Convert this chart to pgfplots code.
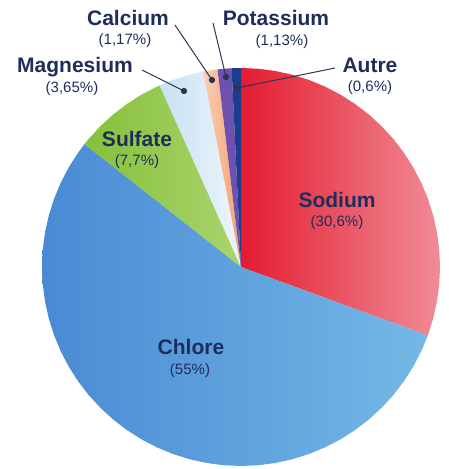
\documentclass[border=0pt]{standalone}
\usepackage{pgfplots}
\pgfplotsset{compat=1.18}
\usepackage{fontspec}
\setmainfont{Liberation Sans}
\definecolor{navy}{HTML}{1F2D5C}
\definecolor{leader}{HTML}{2A3550}
\begin{document}
\begin{tikzpicture}
\begin{axis}[scale only axis, width=449pt, height=469pt,
  xmin=-241, xmax=208, ymin=-202, ymax=267, hide axis, clip=false]
% invisible frame so that the picture keeps the reference's extent
\addplot[draw=none, mark=none] coordinates {(-241,-202) (208,267)};
% Sodium 30.6 %
\addplot[draw=none, data cs=polar, left color={rgb,255:red,228;green,28;blue,48}, right color={rgb,255:red,240;green,140;blue,150}] coordinates {
(0,0) (90,199) (85,199) (80,199) (75,199) (70,199) (65,199) (60,199) (55,199) (50,199) (45,199) (40,199) (35,199) (30,199) (25,199) (20,199) (15,199) (10,199) (5,199) (0,199) (-5,199) (-10,199) (-15,199) (-20.16,199)};
% Chlore 55 %
\addplot[draw=none, data cs=polar, left color={rgb,255:red,74;green,138;blue,212}, right color={rgb,255:red,116;green,184;blue,230}] coordinates {
(0,0) (-20.16,199) (-25,199) (-30,199) (-35,199) (-40,199) (-45,199) (-50,199) (-55,199) (-60,199) (-65,199) (-70,199) (-75,199) (-80,199) (-85,199) (-90,199) (-95,199) (-100,199) (-105,199) (-110,199) (-115,199) (-120,199) (-125,199) (-130,199) (-135,199) (-140,199) (-145,199) (-150,199) (-155,199) (-160,199) (-165,199) (-170,199) (-175,199) (-180,199) (-185,199) (-190,199) (-195,199) (-200,199) (-205,199) (-210,199) (-215,199) (-218.16,199)};
% Sulfate 7.7 %
\addplot[draw=none, data cs=polar, left color={rgb,255:red,134;green,192;blue,58}, right color={rgb,255:red,170;green,212;blue,110}] coordinates {
(0,0) (141.84,199) (140,199) (135,199) (130,199) (125,199) (120,199) (115,199) (114.12,199)};
% Magnesium 3.65 %
\addplot[draw=none, data cs=polar, left color={rgb,255:red,200;green,225;blue,243}, right color={rgb,255:red,238;green,245;blue,251}] coordinates {
(0,0) (114.12,199) (110,199) (105,199) (100.98,199)};
% Calcium 1.17 %
\addplot[draw=none, data cs=polar, left color={rgb,255:red,249;green,206;blue,180}, right color={rgb,255:red,243;green,160;blue,112}] coordinates {
(0,0) (100.98,199) (99,199) (96.77,199)};
% Potassium 1.13 %
\addplot[draw=none, data cs=polar, fill={rgb,255:red,110;green,80;blue,175}] coordinates {
(0,0) (96.77,199) (94.7,199) (92.70,199)};
% Autre 0.6 %
\addplot[draw=none, data cs=polar, fill={rgb,255:red,30;green,60;blue,140}] coordinates {
(0,0) (92.70,199) (91.3,199) (90,199)};
% leader lines
\addplot[leader, line width=1pt, mark=*, mark indices={2}, mark size=2.6pt] coordinates {(-99,197) (-57,176)};
\addplot[leader, line width=1pt, mark=*, mark indices={2}, mark size=2.6pt] coordinates {(-66,242) (-29,187)};
\addplot[leader, line width=1pt, mark=*, mark indices={2}, mark size=2.6pt] coordinates {(-28,244) (-15,190)};
\addplot[leader, line width=1pt, mark=*, mark indices={2}, mark size=2.6pt] coordinates {(94,199) (-4,179)};
% labels
\tikzset{nm/.style={font=\fontsize{21}{24}\selectfont\bfseries, text=navy, inner sep=0pt},
         pc/.style={font=\fontsize{15}{18}\selectfont, text=navy, inner sep=0pt}}
\node[nm] at (axis cs:-113,249) {Calcium};
\node[pc] at (axis cs:-116,226) {(1,17\%)};
\node[nm] at (axis cs:35,249) {Potassium};
\node[pc] at (axis cs:41,225) {(1,13\%)};
\node[nm] at (axis cs:-166,200) {Magnesium};
\node[pc] at (axis cs:-169,178) {(3,65\%)};
\node[nm] at (axis cs:129,202) {Autre};
\node[pc] at (axis cs:129,179) {(0,6\%)};
\node[nm] at (axis cs:-104,128) {Sulfate};
\node[pc] at (axis cs:-104,105) {(7,7\%)};
\node[nm] at (axis cs:96,67) {Sodium};
\node[pc] at (axis cs:96,44) {(30,6\%)};
\node[nm] at (axis cs:-50,-80) {Chlore};
\node[pc] at (axis cs:-51,-104) {(55\%)};
\end{axis}
\end{tikzpicture}
\end{document}
